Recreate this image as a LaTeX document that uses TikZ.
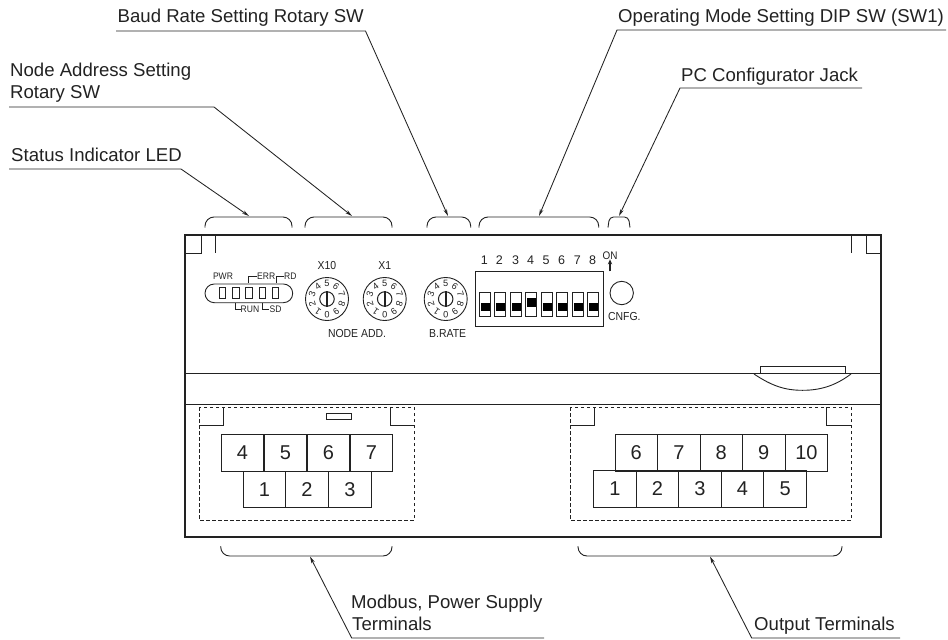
\documentclass[tikz,border=0pt]{standalone}
\usepackage{fontspec}
\setmainfont{Liberation Sans}
\usetikzlibrary{arrows.meta}
\definecolor{ink}{HTML}{222222}
\newcommand{\cnd}[1]{\scalebox{.9}[1]{#1}}
\newcommand{\rotdial}[3]{%
  \node[circle,draw=ink,line width=.9pt,minimum size=43pt,inner sep=0pt] (#1) at (#2,#3) {};
  \node[circle,draw=ink,line width=1pt,minimum size=14.5pt,inner sep=0pt] (#1in) at (#2,#3) {};
  \draw[ink,line width=1.8pt] (#1in.north) -- (#1in.south);
  \begin{scope}[shift={(#2,#3)}]
    \foreach \k in {0,...,9}{
      \pgfmathsetmacro{\ang}{-90-36*\k}
      \pgfmathsetmacro{\rot}{\ang-90}
      \node[dialdigit,rotate=\rot] (#1d\k) at (\ang:15.5pt) {\k};
    }
  \end{scope}
}
\tikzset{
  x=1pt,y=-1pt,
  body/.style={draw=ink,line width=1.4pt},
  thin line/.style={draw=ink,line width=.9pt},
  leader/.style={draw=ink,line width=.85pt},
  tip/.style={-{Stealth[length=7pt,width=3.6pt]}},
  brace/.style={draw=ink,line width=.9pt,rounded corners=9pt},
  dashbox/.style={draw=ink,line width=.9pt,dash pattern=on 3.5pt off 2.5pt},
  lbl/.style={anchor=base west,inner sep=0pt,font=\fontsize{18.6}{21}\selectfont,text=ink},
  term/.style={draw=ink,line width=.9pt,minimum width=42.7pt,minimum height=36.6pt,inner sep=0pt,font=\fontsize{20}{22}\selectfont,text=ink},
  tiny/.style={inner sep=0pt,font=\fontsize{9.5}{10}\selectfont,text=ink},
  small/.style={inner sep=0pt,font=\fontsize{11.6}{12}\selectfont,text=ink},
  dialdigit/.style={inner sep=0pt,font=\fontsize{9.2}{10}\selectfont,text=ink},
  dipnum/.style={anchor=base,inner sep=0pt,font=\fontsize{12.5}{13}\selectfont,text=ink},
  led/.style={draw=ink,line width=.9pt,minimum width=6.6pt,minimum height=11.4pt,inner sep=0pt},
  dipsw/.style={draw=ink,line width=.9pt,minimum width=11pt,minimum height=24pt,inner sep=0pt},
  dipon/.style={fill=black,minimum width=9pt,minimum height=8.6pt,inner sep=0pt},
}
\begin{document}
\begin{tikzpicture}
\useasboundingbox (0,0) rectangle (948,640);
% housing
\draw[body] (185,235) rectangle (881,537);
\draw[thin line] (185,373.7) -- (754,373.7);
\draw[thin line] (851,373.7) -- (881,373.7);
\draw[thin line] (185,404) -- (881,404);
\draw[thin line] (185,253) -| (201,235);
\draw[thin line] (215.7,235) -- (215.7,253);
\draw[thin line] (851,235) -- (851,253);
\draw[thin line] (881,253) -| (866,235);
% slot on the right
\draw[thin line] (760,366) rectangle (845,373);
\draw[thin line] (754,373.7) -- (851,373.7);
\draw[thin line] (754,374) .. controls (772,386) and (785,390.3) .. (802.5,390.3) .. controls (820,390.3) and (835,386) .. (851,374);
% brackets
\draw[brace] (205,227.5) -- (205,217) -- (292,217) -- (292,227.5);
\draw[brace] (305,227.5) -- (305,217) -- (392,217) -- (392,227.5);
\draw[brace] (427,227.5) -- (427,217) -- (470.7,217) -- (470.7,227.5);
\draw[brace] (479,227.5) -- (479,217) -- (598.7,217) -- (598.7,227.5);
\draw[draw=ink,line width=.9pt,rounded corners=4pt] (608,227.5) -- (609.5,217) -- (628.5,217) -- (630,227.5);
\draw[brace] (220.7,546) -- (220.7,556) -- (392,556) -- (392,546);
\draw[brace] (578,546) -- (578,556) -- (842,556) -- (842,546);
% leaders
\coordinate (c1k) at (181,169); \coordinate (c1s) at (9,169); \coordinate (c1t) at (249,216);
\coordinate (c2k) at (214,107); \coordinate (c2s) at (9,107); \coordinate (c2t) at (352,216);
\coordinate (c3k) at (365.5,31); \coordinate (c3s) at (116,31); \coordinate (c3t) at (448,216);
\coordinate (c4k) at (617,30); \coordinate (c4s) at (946,30); \coordinate (c4t) at (539,216);
\coordinate (c5k) at (680,88); \coordinate (c5s) at (862,88); \coordinate (c5t) at (619,216);
\coordinate (c6k) at (351.7,638); \coordinate (c6s) at (544,638); \coordinate (c6t) at (310,556.5);
\coordinate (c7k) at (751.7,638); \coordinate (c7s) at (900,638); \coordinate (c7t) at (710,556.5);
\foreach \i in {1,...,7}{\draw[leader,tip] (c\i s) -- (c\i k) -- (c\i t);}
% leader labels
\node[lbl] (t1) at (11,161.7) {Status Indicator LED};
\node[lbl] (t2a) at (10,76.7) {Node Address Setting};
\node[lbl] (t2b) at (10,98.3) {Rotary SW};
\node[lbl] (t3) at (117.5,22.7) {Baud Rate Setting Rotary SW};
\node[lbl] (t4) at (618,22.7) {Operating Mode Setting DIP SW (SW1)};
\node[lbl] (t5) at (681,81) {PC Configurator Jack};
\node[lbl] (t6a) at (351,608.5) {Modbus, Power Supply};
\node[lbl] (t6b) at (352,630) {Terminals};
\node[lbl] (t7) at (754,630) {Output Terminals};
% LED panel
\draw[thin line,rounded corners=9.3pt] (205,284) rectangle (292.7,302.7);
\foreach \x [count=\i] in {222.6,235.8,248.8,262.5,275.5}{\node[led] (led\i) at (\x,293) {};}
\node[tiny] (pwr) at (223,276) {\cnd{PWR}};
\node[tiny] (err) at (266.2,276.4) {\cnd{ERR}};
\node[tiny] (rd) at (290.3,276.7) {\cnd{RD}};
\node[tiny] (run) at (250,309) {\cnd{RUN}};
\node[tiny] (sd) at (275.5,309) {\cnd{SD}};
\draw[thin line] (248.3,282.7) |- (err.west);
\draw[thin line] (276,282.7) |- (rd.west);
\draw[thin line] (235.7,303.3) |- (run.west);
\draw[thin line] (262.3,303.3) |- (sd.west);
% dials
\rotdial{da}{327}{299}
\rotdial{db}{384.7}{299}
\rotdial{dc}{445.7}{299}
\node[small] (x10) at (327,266) {\cnd{X10}};
\node[small] (x1) at (384.7,266) {\cnd{X1}};
\node[small] (nodeadd) at (357,333.3) {\cnd{NODE ADD.}};
\node[small] (brate) at (447.7,333.3) {\cnd{B.RATE}};
% DIP
\draw[thin line] (475.3,271.7) rectangle (603,326.3);
\foreach \x/\nx/\y [count=\i] in {485/484.3/307,500.4/499.3/307,516/515.7/307,531.4/530.7/302.3,547/546/307,562.4/561.7/307,578/577.3/307,593.4/592.7/307}{
  \node[dipsw] (sw\i) at (\x,304.7) {};
  \node[dipon] (on\i) at (\x,\y) {};
  \node[dipnum] (n\i) at (\nx,264.3) {\i};
}
\node[tiny,font=\fontsize{11}{12}\selectfont] (on) at (610,255.3) {\cnd{ON}};
\coordinate (onb) at (610,271.3);
\draw[ink,line width=1.1pt,-{Stealth[length=5pt,width=4.4pt]}] (onb) -- (on.south);
\node[circle,draw=ink,line width=.9pt,minimum size=23.4pt,inner sep=0pt] (cfg) at (621.7,293) {};
\node[small] (cnfg) at (624.3,316.7) {\cnd{CNFG.}};
% left terminal block
\draw[dashbox] (199,407) rectangle (414,520);
\draw[thin line] (199,425) -| (223.5,407);
\draw[thin line] (414,425) -| (390,407);
\draw[thin line] (326,413) rectangle (351,419);
\foreach \x/\t in {242.5/4,285.5/5,328.5/6,371.5/7}{\node[term] (L\t) at (\x,453) {\t};}
\foreach \x/\t in {264.5/1,307/2,350/3}{\node[term] (L\t) at (\x,489.5) {\t};}
% right terminal block
\draw[dashbox] (570,407) rectangle (851,520);
\draw[thin line] (570,425) -| (594,407);
\draw[thin line] (851,425) -| (826,407);
\foreach \x/\t in {636.3/6,679/7,721.3/8,763.8/9,806.4/10}{\node[term] (R\t) at (\x,453) {\t};}
\foreach \x/\t in {615/1,657.5/2,700/3,742.5/4,785.2/5}{\node[term] (R\t) at (\x,489) {\t};}
\end{tikzpicture}
\end{document}
